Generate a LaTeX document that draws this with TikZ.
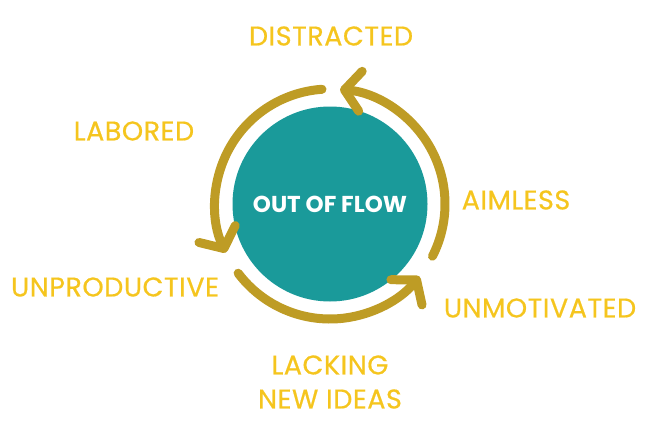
\documentclass[tikz,border=0pt]{standalone}
\usepackage{fontspec}
\setmainfont{Poppins}
\newfontfamily\moodfont[FakeBold=0.6,LetterSpace=2]{Poppins}
\usetikzlibrary{arrows.meta}
\definecolor{flowteal}{HTML}{1A9A9A}
\definecolor{flowgold}{HTML}{BE9C25}
\definecolor{flowtext}{HTML}{F5C51E}
\begin{document}
\begin{tikzpicture}[x=1pt,y=1pt,
    mood/.style={text=flowtext,font=\moodfont\fontsize{27}{34}\selectfont,align=center},
    cycle/.style={draw=flowgold,line width=9pt,line cap=round,
        -{Straight Barb[length=16pt,width=40pt,round]}}]
    \useasboundingbox (0,0) rectangle (655,432);
    \node (core) [circle,fill=flowteal,minimum size=195pt,inner sep=0pt,
        text=white,font=\bfseries\fontsize{23}{28}\selectfont] at (330,228) {OUT OF FLOW};
    % cycle arrows
    \draw[cycle] (core.center) ++(94:115) arc[start angle=94,end angle=205,radius=115];
    \draw[cycle] (core.center) ++(217:115) arc[start angle=217,end angle=321,radius=115];
    \draw[cycle] (core.center) ++(333:115) arc[start angle=333,end angle=445,radius=115];
    % labels
    \node (distracted) [mood] at (331,396) {DISTRACTED};
    \node (labored) [mood] at (134,301) {LABORED};
    \node (aimless) [mood] at (516,232) {AIMLESS};
    \node (unproductive) [mood] at (115,145) {UNPRODUCTIVE};
    \node (unmotivated) [mood] at (540,124) {UNMOTIVATED};
    \node (lacking) [mood] at (330,50) {LACKING\\NEW IDEAS};
\end{tikzpicture}
\end{document}
